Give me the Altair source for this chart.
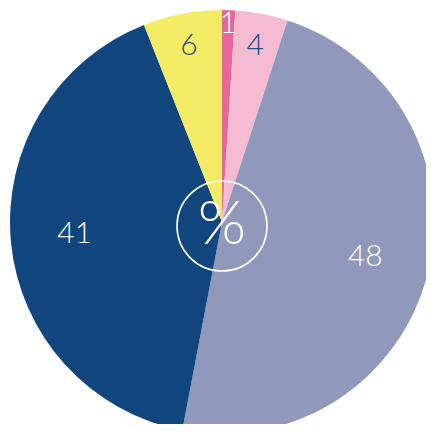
import altair as alt
import pandas as pd

categories = ["A", "B", "C", "D", "E"]
values = [1, 4, 48, 41, 6]
colors = ["#E8679A", "#F5BBD3", "#9098BB", "#10457E", "#F5EC66"]
label_colors = ["#FFFFFF", "#1F4E85", "#FFFFFF", "#FFFFFF", "#1F4E85"]
center_text = ["%"]

df = pd.DataFrame({
    "cat": categories,
    "value": values,
    "order": list(range(len(values))),
    "lcolor": label_colors,
})

CX, CY, R = 214, 214, 212
FONT = "Lato Light, Lato, sans-serif"

pie = alt.Chart(df).mark_arc(radius=R, stroke=None).encode(
    theta=alt.Theta("value:Q", stack=True),
    order=alt.Order("order:Q"),
    x=alt.value(CX), y=alt.value(CY),
    color=alt.Color("cat:N", scale=alt.Scale(domain=categories, range=colors), legend=None),
)

labels = alt.Chart(df).transform_window(
    cum="sum(value)", sort=[alt.SortField("order")], frame=[None, 0]
).transform_joinaggregate(
    total="sum(value)"
).transform_calculate(
    mid="(datum.cum - datum.value / 2) / datum.total",
    lr="datum.value >= 10 ? 148 : (datum.value < 2 ? 196 : 177)",
).mark_text(
    font=FONT, fontWeight=300, fontSize=30, align="center", baseline="middle", dy=-2
).encode(
    x=alt.value(CX), y=alt.value(CY),
    theta=alt.Theta("mid:Q", stack=None, scale=alt.Scale(domain=[0, 1], range=[0, 6.283185307])),
    radius=alt.Radius("lr:Q", scale=None),
    text=alt.Text("value:Q"),
    color=alt.Color("lcolor:N", scale=None),
)

cdf = pd.DataFrame({"t": center_text})
ring = alt.Chart(cdf).mark_point(
    shape="circle", filled=False, size=90 * 90, strokeWidth=1.6, color="white", opacity=1
).encode(x=alt.value(CX), y=alt.value(CY + 4))

pct = alt.Chart(cdf).mark_text(
    font=FONT, fontWeight=300, fontSize=62, color="white", align="center", baseline="middle"
).encode(x=alt.value(CX), y=alt.value(CY + 3), text="t:N")

chart = alt.layer(pie, labels, ring, pct).resolve_scale(
    color="independent", theta="independent", radius="independent"
).properties(
    width=418, height=416, autosize=alt.AutoSizeParams(type="none"), padding=0
).configure_view(strokeWidth=0)

chart.save("out.html", embed_options={"renderer": "svg", "actions": False})
